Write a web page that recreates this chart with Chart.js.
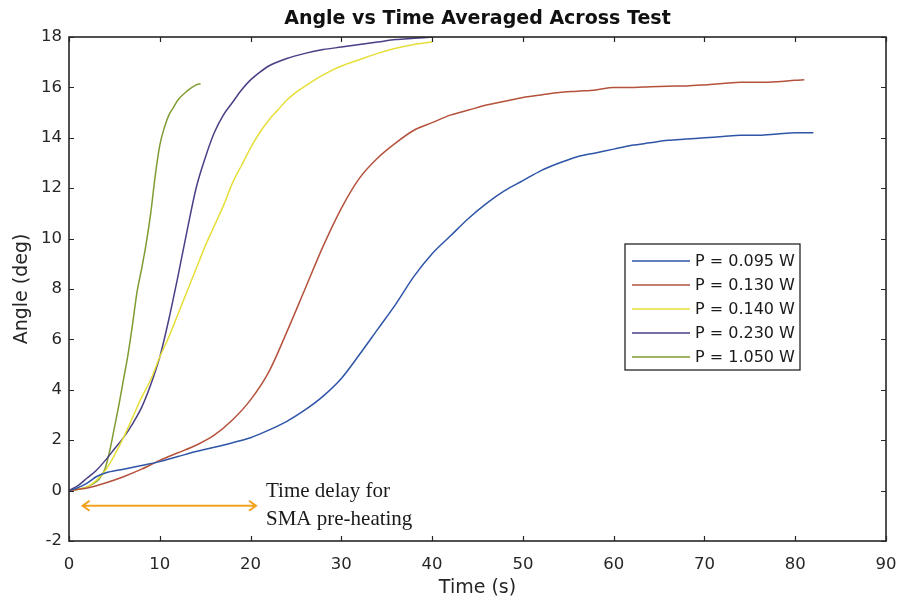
<!DOCTYPE html>
<html><head><meta charset="utf-8">
<script src="https://cdn.jsdelivr.net/npm/chart.js@4.4.1/dist/chart.umd.min.js"></script>
<style>html,body{margin:0;padding:0;background:#fff;}</style>
</head><body>
<canvas id="c" width="899" height="603"></canvas>
<script>
// ---- data ----
const chartTitle = 'Angle vs Time Averaged Across Test';
const seriesLabels = ['P = 0.095 W', 'P = 0.130 W', 'P = 0.140 W', 'P = 0.230 W', 'P = 1.050 W'];
const seriesColors = ['#2f55a8', '#b4523c', '#e6df3a', '#4a3f86', '#7f9c32'];

const t095 = [0,1,2,3,4,6,8,10,12,14,16,18,20,22,24,26,28,30,32,34,36,38,40,42,44,46,48,50,52,54,56,58,60,62,64,66,68,70,72,74,76,78,80,82];
const a095 = [0,0.12,0.3,0.55,0.7,0.85,1.0,1.15,1.35,1.55,1.72,1.9,2.1,2.4,2.75,3.2,3.75,4.45,5.4,6.4,7.4,8.5,9.4,10.1,10.8,11.4,11.9,12.3,12.7,13.0,13.25,13.4,13.55,13.7,13.8,13.9,13.95,14.0,14.05,14.1,14.1,14.15,14.2,14.2];

const t130 = [0,2,4,6,8,10,12,14,16,18,20,22,24,26,28,30,32,34,36,38,40,42,44,46,48,50,52,54,56,58,60,62,64,66,68,70,72,74,76,78,80,81];
const a130 = [0,0.1,0.3,0.55,0.85,1.2,1.5,1.8,2.2,2.8,3.6,4.7,6.3,8.0,9.7,11.2,12.4,13.2,13.8,14.3,14.6,14.9,15.1,15.3,15.45,15.6,15.7,15.8,15.85,15.9,16.0,16.0,16.03,16.05,16.06,16.1,16.15,16.2,16.2,16.22,16.28,16.3];

const t140 = [0,1,2,3,4,5,6,7,8,9,10,11,12,13,14,15,16,17,18,19,20,21,22,23,24,25,26,28,30,32,34,36,38,40];
const a140 = [0,0.05,0.15,0.4,0.8,1.4,2.1,2.9,3.7,4.4,5.3,6.1,7.0,7.9,8.8,9.7,10.5,11.3,12.2,12.9,13.6,14.2,14.7,15.1,15.5,15.8,16.05,16.5,16.85,17.1,17.35,17.55,17.7,17.8];

const t230 = [0,1,2,3,4,5,6,7,8,9,10,11,12,13,14,15,16,17,18,19,20,21,22,24,26,28,30,32,34,36,38,40];
const a230 = [0,0.2,0.5,0.8,1.2,1.65,2.1,2.65,3.3,4.2,5.3,6.8,8.5,10.3,12.0,13.2,14.2,14.9,15.4,15.9,16.3,16.6,16.85,17.15,17.35,17.5,17.6,17.7,17.8,17.9,17.95,18.0];

const t1050 = [0,1,2,3,3.5,4,4.5,5,5.5,6,6.5,7,7.5,8,8.5,9,9.5,10,10.5,11,11.5,12,13,14,14.5];
const a1050 = [0,0.05,0.15,0.35,0.55,0.9,1.6,2.5,3.4,4.4,5.4,6.6,7.9,8.8,9.8,11.0,12.5,13.7,14.4,14.9,15.2,15.5,15.85,16.1,16.15];

const xTicks = [0,10,20,30,40,50,60,70,80,90];
const yTicks = [-2,0,2,4,6,8,10,12,14,16,18];

const arrowFrom = 1.5, arrowTo = 20.6, arrowAt = -0.6;
const noteLines = ['Time delay for', 'SMA pre-heating'];
const noteX = 21.7, noteY = [-0.25, -1.37];

// ---- build ----
const times = [t095, t130, t140, t230, t1050];
const values = [a095, a130, a140, a230, a1050];
const datasets = seriesLabels.map((lab, i) => ({
  label: lab,
  data: times[i].map((t, k) => ({x: t, y: values[i][k]})),
  borderColor: seriesColors[i],
  backgroundColor: seriesColors[i],
  borderWidth: 1.5,
  pointRadius: 0,
  showLine: true,
  cubicInterpolationMode: 'monotone',
  fill: false
}));

const AX = '#262626';
const SANS = '"DejaVu Sans", "Liberation Sans", Arial, sans-serif';

const framePlugin = {
  id: 'frame',
  afterDatasetsDraw(chart) {
    const {ctx, chartArea: a, scales: {x, y}} = chart;
    ctx.save();
    ctx.strokeStyle = AX;
    ctx.lineWidth = 1.6;
    ctx.strokeRect(a.left, a.top, a.right - a.left, a.bottom - a.top);
    ctx.lineWidth = 1.2;
    const L = 5;
    ctx.beginPath();
    xTicks.forEach(v => {
      const px = Math.round(x.getPixelForValue(v)) + 0.5;
      ctx.moveTo(px, a.bottom); ctx.lineTo(px, a.bottom - L);
      ctx.moveTo(px, a.top); ctx.lineTo(px, a.top + L);
    });
    yTicks.forEach(v => {
      const py = Math.round(y.getPixelForValue(v)) + 0.5;
      ctx.moveTo(a.left, py); ctx.lineTo(a.left + L, py);
      ctx.moveTo(a.right, py); ctx.lineTo(a.right - L, py);
    });
    ctx.stroke();
    ctx.restore();
  },
  afterDraw(chart) {
    const {ctx, chartArea: a, scales: {x, y}} = chart;
    ctx.save();
    // title, centred over the plot area
    ctx.fillStyle = '#111';
    ctx.font = 'bold 19px ' + SANS;
    ctx.textAlign = 'center';
    ctx.textBaseline = 'middle';
    ctx.fillText(chartTitle, (a.left + a.right) / 2, a.top - 18);
    // legend
    const bx = a.right - 261, by = a.top + 207, bw = 175, bh = 126;
    ctx.fillStyle = '#fff';
    ctx.fillRect(bx, by, bw, bh);
    ctx.strokeStyle = AX; ctx.lineWidth = 1.3;
    ctx.strokeRect(bx, by, bw, bh);
    ctx.font = '16px ' + SANS;
    ctx.textAlign = 'left';
    chart.data.datasets.forEach((ds, i) => {
      const ry = by + 17 + i * 24;
      ctx.strokeStyle = ds.borderColor; ctx.lineWidth = 1.5;
      ctx.beginPath(); ctx.moveTo(bx + 7, ry); ctx.lineTo(bx + 65, ry); ctx.stroke();
      ctx.fillStyle = '#1a1a1a';
      ctx.fillText(ds.label, bx + 70, ry + 1);
    });
    // annotation arrow
    const x1 = x.getPixelForValue(arrowFrom), x2 = x.getPixelForValue(arrowTo), ay = y.getPixelForValue(arrowAt);
    ctx.strokeStyle = '#f2a21f'; ctx.lineWidth = 2;
    ctx.beginPath();
    ctx.moveTo(x1, ay); ctx.lineTo(x2, ay);
    ctx.moveTo(x1 + 7, ay - 5); ctx.lineTo(x1, ay); ctx.lineTo(x1 + 7, ay + 5);
    ctx.moveTo(x2 - 7, ay - 5); ctx.lineTo(x2, ay); ctx.lineTo(x2 - 7, ay + 5);
    ctx.stroke();
    ctx.fillStyle = '#1a1a1a';
    ctx.font = '21px "Liberation Serif", "DejaVu Serif", serif';
    ctx.textBaseline = 'alphabetic';
    noteLines.forEach((s, i) => ctx.fillText(s, x.getPixelForValue(noteX), y.getPixelForValue(noteY[i])));
    ctx.restore();
  }
};

new Chart(document.getElementById('c'), {
  type: 'scatter',
  data: {datasets},
  options: {
    responsive: false,
    devicePixelRatio: 1,
    animation: false,
    layout: {padding: {left: 0, right: 13, top: 37, bottom: 0}},
    plugins: {
      legend: {display: false},
      tooltip: {enabled: false},
      title: {display: false}
    },
    scales: {
      x: {
        type: 'linear', min: 0, max: 90,
        afterBuildTicks: s => { s.ticks = xTicks.map(v => ({value: v})); },
        afterFit: s => { s.height = 62; s.paddingLeft = 0; s.paddingRight = 0; },
        grid: {display: false, drawTicks: false},
        border: {display: false},
        ticks: {color: AX, font: {family: SANS, size: 16.5}, padding: 14, maxRotation: 0},
        title: {display: true, text: 'Time (s)', color: AX, font: {family: SANS, size: 19}, padding: {top: 0, bottom: 3.6}}
      },
      y: {
        type: 'linear', min: -2, max: 18,
        afterBuildTicks: s => { s.ticks = yTicks.map(v => ({value: v})); },
        afterFit: s => { s.width = 69; s.paddingTop = 0; s.paddingBottom = 0; },
        grid: {display: false, drawTicks: false},
        border: {display: false},
        ticks: {color: AX, font: {family: SANS, size: 16.5}, padding: 7},
        title: {display: true, text: 'Angle (deg)', color: AX, font: {family: SANS, size: 19}, padding: {top: 10.6, bottom: 0}}
      }
    }
  },
  plugins: [framePlugin]
});
</script>
</body></html>
